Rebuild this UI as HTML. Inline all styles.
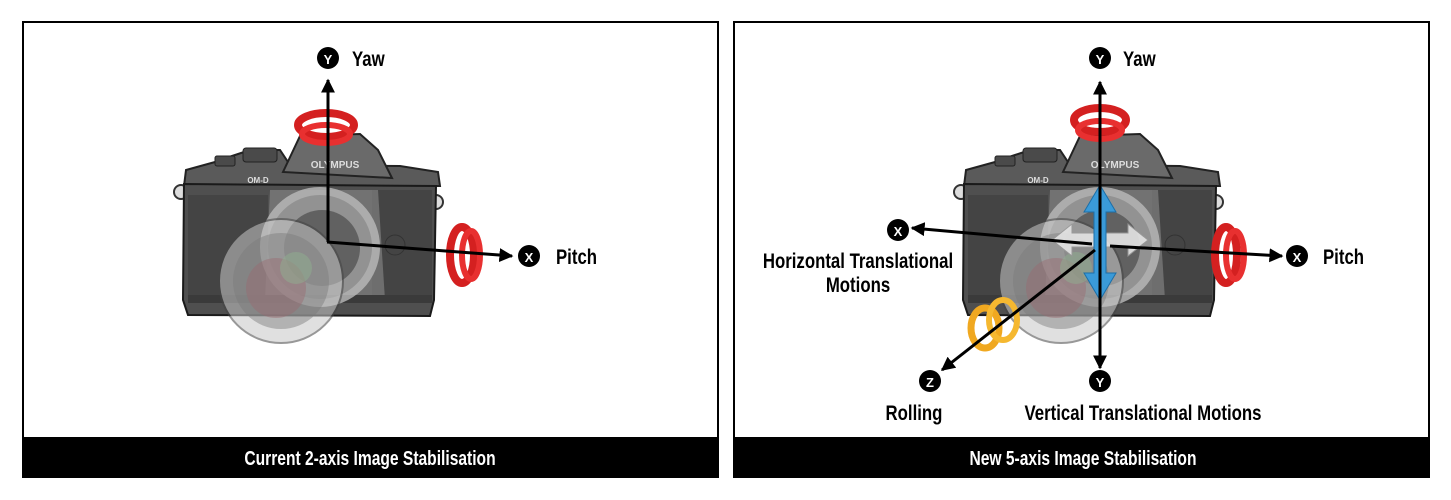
<!DOCTYPE html>
<html><head><meta charset="utf-8"><style>
html,body{margin:0;padding:0;background:#fff;}
svg{display:block;}
text{font-family:"Liberation Sans",sans-serif;font-weight:bold;}
</style></head><body>
<svg width="1451" height="500" viewBox="0 0 1451 500">
<defs>
<g id="cam">
  <circle cx="181" cy="192" r="7" fill="#ddd" stroke="#333" stroke-width="2"/>
  <circle cx="436" cy="202" r="7" fill="#ddd" stroke="#333" stroke-width="2"/>
  <path d="M186 170 L215 162 L232 156 L250 150 L280 150 L290 165 L400 166 L438 172 L440 186 L184 186 Z" fill="#5a5a5a" stroke="#222" stroke-width="2"/>
  <rect x="243" y="148" width="34" height="14" rx="3" fill="#4a4a4a" stroke="#222"/>
  <rect x="215" y="156" width="20" height="10" rx="2" fill="#4a4a4a" stroke="#222"/>
  <path d="M283 172 L300 136 L360 134 L378 150 L392 178 Z" fill="#6a6a6a" stroke="#222" stroke-width="2"/>
  <text x="335" y="168" font-size="10" fill="#ddd" text-anchor="middle">OLYMPUS</text>
  <text x="258" y="183" font-size="8" fill="#ddd" text-anchor="middle">OM-D</text>
  <path d="M184 184 L436 186 L434 300 L430 316 L188 315 L183 300 Z" fill="#4f4f4f" stroke="#1a1a1a" stroke-width="2"/>
  <rect x="188" y="195" width="80" height="100" fill="#444"/>
  <rect x="372" y="190" width="60" height="110" fill="#444"/>
  <path d="M270 190 L378 190 L385 300 L265 300 Z" fill="#8a8a8a" opacity="0.6"/>
  <rect x="188" y="295" width="244" height="8" fill="#3a3a3a"/>
  <circle cx="320" cy="247" r="56" fill="#9a9a9a" stroke="#bbb" stroke-width="8" opacity="0.8"/>
  <circle cx="322" cy="248" r="38" fill="#555" opacity="0.8"/>
  <circle cx="281" cy="281" r="62" fill="#c8c8c8" stroke="#444" stroke-width="2" opacity="0.55"/>
  <circle cx="281" cy="281" r="48" fill="#7a7a7a" opacity="0.45"/>
  <circle cx="276" cy="288" r="30" fill="#9a6a72" opacity="0.45"/>
  <circle cx="296" cy="268" r="16" fill="#8fb090" opacity="0.5"/>
  <circle cx="395" cy="245" r="10" fill="#444" stroke="#333"/>
</g>
<marker id="a2" viewBox="0 0 10 10" markerWidth="14" markerHeight="14" refX="9" refY="5" orient="auto" markerUnits="userSpaceOnUse">
  <path d="M0 0 L10 5 L0 10 Z" fill="#000"/>
</marker>
</defs>

<rect x="23" y="22" width="695" height="455" fill="#fff" stroke="#000" stroke-width="2"/>
<rect x="22" y="437" width="697" height="41" fill="#000"/>
<text x="370" y="465" font-size="20" fill="#fff" text-anchor="middle" transform="translate(370 0) scale(0.78 1) translate(-370 0)">Current 2-axis Image Stabilisation</text>

<rect x="734" y="22" width="695" height="455" fill="#fff" stroke="#000" stroke-width="2"/>
<rect x="733" y="437" width="697" height="41" fill="#000"/>
<text x="1083" y="465" font-size="20" fill="#fff" text-anchor="middle" transform="translate(1083 0) scale(0.78 1) translate(-1083 0)">New 5-axis Image Stabilisation</text>

<!-- LEFT -->
<use href="#cam"/>
<ellipse cx="326" cy="125" rx="28" ry="12" fill="none" stroke="#d42020" stroke-width="8"/>
<ellipse cx="326" cy="134" rx="24" ry="9" fill="none" stroke="#e83030" stroke-width="6"/>
<ellipse cx="462" cy="255" rx="12" ry="28" fill="none" stroke="#d42020" stroke-width="8"/>
<ellipse cx="471" cy="255" rx="9" ry="24" fill="none" stroke="#e83030" stroke-width="6"/>
<path d="M328 242 L328 80" stroke="#000" stroke-width="3" fill="none" marker-end="url(#a2)"/>
<path d="M327 242 L512 256" stroke="#000" stroke-width="3" fill="none" marker-end="url(#a2)"/>
<circle cx="328" cy="58" r="11" fill="#000"/><text x="328" y="64" font-size="13" fill="#fff" text-anchor="middle">Y</text>
<text x="352" y="66" font-size="21" fill="#000" transform="translate(352 0) scale(0.8 1) translate(-352 0)">Yaw</text>
<circle cx="529" cy="256" r="11" fill="#000"/><text x="529" y="262" font-size="13" fill="#fff" text-anchor="middle">X</text>
<text x="556" y="264" font-size="21" fill="#000" transform="translate(556 0) scale(0.8 1) translate(-556 0)">Pitch</text>

<!-- RIGHT -->
<use href="#cam" transform="translate(780 0)"/>
<ellipse cx="1100" cy="120" rx="26" ry="12" fill="none" stroke="#d42020" stroke-width="8"/>
<ellipse cx="1100" cy="130" rx="22" ry="9" fill="none" stroke="#e83030" stroke-width="6"/>
<ellipse cx="1226" cy="255" rx="11" ry="28" fill="none" stroke="#d42020" stroke-width="8"/>
<ellipse cx="1235" cy="255" rx="9" ry="24" fill="none" stroke="#e83030" stroke-width="6"/>
<ellipse cx="985" cy="328" rx="14" ry="20" fill="none" stroke="#f0a820" stroke-width="7"/>
<ellipse cx="1003" cy="320" rx="14" ry="20" fill="none" stroke="#f5b830" stroke-width="6"/>
<path d="M1052 240 L1072 224 L1072 233 L1128 233 L1128 224 L1148 240 L1128 256 L1128 247 L1072 247 L1072 256 Z" fill="#e4e4e4" stroke="#999" opacity="0.9"/>
<path d="M1100 185 L1116 212 L1106 212 L1106 273 L1116 273 L1100 300 L1084 273 L1094 273 L1094 212 L1084 212 Z" fill="#3a9ad8" stroke="#1c6fa8"/>
<path d="M1100 245 L1100 82" stroke="#000" stroke-width="3" fill="none" marker-end="url(#a2)"/>
<path d="M1100 245 L1100 368" stroke="#000" stroke-width="3" fill="none" marker-end="url(#a2)"/>
<path d="M1092 244 L912 228" stroke="#000" stroke-width="3" fill="none" marker-end="url(#a2)"/>
<path d="M1110 246 L1282 256" stroke="#000" stroke-width="3" fill="none" marker-end="url(#a2)"/>
<path d="M1095 250 L942 370" stroke="#000" stroke-width="3" fill="none" marker-end="url(#a2)"/>
<circle cx="1100" cy="58" r="11" fill="#000"/><text x="1100" y="64" font-size="13" fill="#fff" text-anchor="middle">Y</text>
<text x="1123" y="66" font-size="21" fill="#000" transform="translate(1123 0) scale(0.8 1) translate(-1123 0)">Yaw</text>
<circle cx="898" cy="230" r="11" fill="#000"/><text x="898" y="236" font-size="13" fill="#fff" text-anchor="middle">X</text>
<circle cx="1297" cy="256" r="11" fill="#000"/><text x="1297" y="262" font-size="13" fill="#fff" text-anchor="middle">X</text>
<text x="1323" y="264" font-size="21" fill="#000" transform="translate(1323 0) scale(0.8 1) translate(-1323 0)">Pitch</text>
<circle cx="1100" cy="381" r="11" fill="#000"/><text x="1100" y="387" font-size="13" fill="#fff" text-anchor="middle">Y</text>
<circle cx="930" cy="381" r="11" fill="#000"/><text x="930" y="387" font-size="13" fill="#fff" text-anchor="middle">Z</text>
<g transform="translate(858 0) scale(0.8 1) translate(-858 0)">
<text x="858" y="268" font-size="21" fill="#000" text-anchor="middle">Horizontal Translational</text>
<text x="858" y="292" font-size="21" fill="#000" text-anchor="middle">Motions</text>
</g>
<text x="914" y="420" font-size="21" fill="#000" text-anchor="middle" transform="translate(914 0) scale(0.8 1) translate(-914 0)">Rolling</text>
<text x="1143" y="420" font-size="21" fill="#000" text-anchor="middle" transform="translate(1143 0) scale(0.8 1) translate(-1143 0)">Vertical Translational Motions</text>
</svg>
</body></html>
